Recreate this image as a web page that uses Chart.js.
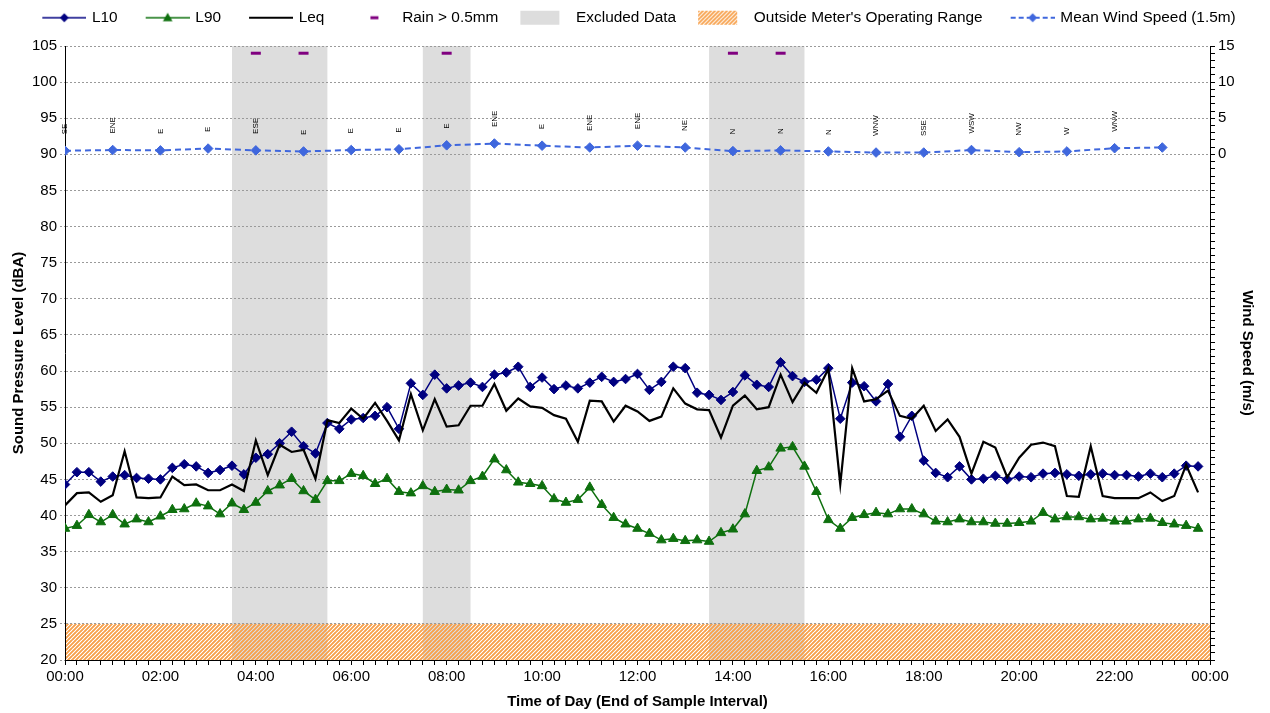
<!DOCTYPE html>
<html><head><meta charset="utf-8">
<script src="https://cdn.jsdelivr.net/npm/chart.js@4.4.1/dist/chart.umd.min.js"></script>
<style>html,body{margin:0;padding:0;background:#fff}#wrap{width:1270px;height:713px}</style>
</head><body><div id="wrap"><canvas id="c" width="1270" height="713"></canvas></div>
<script>
// ---------- DATA ----------
const timeLabels = [
"00:00","00:15","00:30","00:45","01:00","01:15","01:30","01:45",
"02:00","02:15","02:30","02:45","03:00","03:15","03:30","03:45",
"04:00","04:15","04:30","04:45","05:00","05:15","05:30","05:45",
"06:00","06:15","06:30","06:45","07:00","07:15","07:30","07:45",
"08:00","08:15","08:30","08:45","09:00","09:15","09:30","09:45",
"10:00","10:15","10:30","10:45","11:00","11:15","11:30","11:45",
"12:00","12:15","12:30","12:45","13:00","13:15","13:30","13:45",
"14:00","14:15","14:30","14:45","15:00","15:15","15:30","15:45",
"16:00","16:15","16:30","16:45","17:00","17:15","17:30","17:45",
"18:00","18:15","18:30","18:45","19:00","19:15","19:30","19:45",
"20:00","20:15","20:30","20:45","21:00","21:15","21:30","21:45",
"22:00","22:15","22:30","22:45","23:00","23:15","23:30","23:45"];

const l10Values = [
44.3,46.0,46.0,44.7,45.4,45.6,45.2,45.1,45.0,46.6,47.1,46.8,45.9,46.3,46.9,45.7,
48.0,48.5,50.0,51.6,49.6,48.6,52.8,52.0,53.3,53.5,53.8,55.0,52.0,58.3,56.7,59.5,
57.6,58.0,58.4,57.8,59.5,59.8,60.6,57.8,59.1,57.5,58.0,57.6,58.4,59.2,58.5,58.9,
59.6,57.4,58.5,60.6,60.4,57.0,56.7,56.0,57.1,59.4,58.1,57.8,61.2,59.3,58.5,58.8,
60.4,53.4,58.4,57.9,55.8,58.2,50.9,53.8,47.6,45.9,45.3,46.8,45.0,45.1,45.5,45.0,
45.4,45.3,45.8,45.9,45.7,45.5,45.7,45.8,45.6,45.6,45.4,45.8,45.3,45.8,46.9,46.8];

const l90Values = [
38.2,38.6,40.1,39.1,40.1,38.8,39.5,39.1,39.9,40.8,40.9,41.7,41.3,40.2,41.7,40.8,
41.8,43.4,44.2,45.1,43.4,42.2,44.8,44.8,45.8,45.5,44.4,45.1,43.3,43.1,44.1,43.3,
43.6,43.5,44.8,45.4,47.8,46.3,44.6,44.4,44.1,42.3,41.8,42.2,43.9,41.5,39.7,38.8,
38.2,37.5,36.6,36.8,36.5,36.6,36.4,37.6,38.1,40.2,46.2,46.7,49.3,49.5,46.8,43.3,
39.4,38.2,39.7,40.1,40.4,40.2,40.9,40.9,40.2,39.2,39.1,39.5,39.1,39.1,38.9,38.9,
39.0,39.2,40.4,39.5,39.8,39.8,39.5,39.6,39.2,39.2,39.5,39.6,39.0,38.8,38.6,38.2];

const leqValues = [
41.4,43.1,43.2,41.9,42.8,48.9,42.5,42.4,42.5,45.4,44.2,44.3,43.5,43.5,44.3,43.4,
50.4,45.6,49.8,48.8,49.1,45.1,53.2,52.8,54.8,53.4,55.6,53.1,50.4,56.8,51.8,56.1,
52.3,52.5,55.2,55.2,58.2,54.5,56.2,55.1,54.9,53.9,53.4,50.2,55.9,55.8,53.0,55.2,
54.4,53.1,53.7,57.6,55.5,54.7,54.6,50.8,55.2,56.6,54.7,55.0,59.5,55.7,58.4,57.0,
60.3,44.3,60.4,55.8,56.1,57.3,53.8,53.4,55.2,51.7,53.3,50.9,45.8,50.2,49.4,45.3,
48.0,49.8,50.1,49.6,42.7,42.6,49.6,42.7,42.4,42.4,42.4,43.2,42.0,42.7,47.0,43.2];

const windTimes = ["00:00","01:00","02:00","03:00","04:00","05:00","06:00","07:00",
"08:00","09:00","10:00","11:00","12:00","13:00","14:00","15:00",
"16:00","17:00","18:00","19:00","20:00","21:00","22:00","23:00"];
const windSpeeds = [0.5,0.6,0.55,0.8,0.55,0.4,0.6,0.7,1.25,1.5,1.2,0.95,
1.2,0.95,0.45,0.55,0.4,0.25,0.25,0.6,0.3,0.4,0.85,0.95];
const windDirections = ["SE","ENE","E","E","ESE","E","E","E","E","ENE","E","ENE",
"ENE","NE","N","N","N","WNW","SSE","WSW","NW","W","WNW",""];

const rainTimes = ["04:00","05:00","08:00","14:00","15:00"];
const rainMarkerLevel = 104;

const excludedRanges = [["03:30","05:30"],["07:30","08:30"],["13:30","15:30"]];
const operatingRange = [20, 25];   // below meter's operating range

const xTickLabels = ["00:00","02:00","04:00","06:00","08:00","10:00","12:00",
"14:00","16:00","18:00","20:00","22:00","00:00"];
const rightTickLabels = [0,5,10,15];

// ---------- HELPERS ----------
const FONT = "'Liberation Sans', Arial, sans-serif";
const toHours = t => { const [h,m] = t.split(':').map(Number); return h + m/60; };
const C_L10 = '#000080', C_L90 = '#0E700E', C_LEQ = '#000000',
      C_WIND = '#3F67DD', C_RAIN = '#800080', C_GREY = '#DDDDDD', C_HATCH = '#F7A04B';

function makeHatchTile(){
  const c = document.createElement('canvas'); c.width = 8; c.height = 8;
  const g = c.getContext('2d');
  g.strokeStyle = C_HATCH; g.lineWidth = 1.5;
  for (let k = 0; k <= 16; k += 4){ g.beginPath(); g.moveTo(k-8, 8); g.lineTo(k, 0); g.stroke();
    g.beginPath(); g.moveTo(k-9, 9); g.lineTo(k+1, -1); g.stroke(); }
  return c;
}
const hatchTile = makeHatchTile();

function icon(draw){
  const c = document.createElement('canvas'); c.width = 64; c.height = 16;
  const g = c.getContext('2d'); draw(g); return c;
}
function lineIcon(color, width, dash, marker){
  return icon(g => {
    g.strokeStyle = color; g.lineWidth = width; g.setLineDash(dash);
    g.beginPath(); g.moveTo(20, 8); g.lineTo(64, 8); g.stroke(); g.setLineDash([]);
    g.fillStyle = color; const cx = 42, cy = 8;
    if (marker === 'diamond'){ g.beginPath(); g.moveTo(cx, cy-4.5); g.lineTo(cx+4.5, cy); g.lineTo(cx, cy+4.5); g.lineTo(cx-4.5, cy); g.closePath(); g.fill(); }
    if (marker === 'triangle'){ g.beginPath(); g.moveTo(cx, cy-5); g.lineTo(cx+4.8, cy+3.5); g.lineTo(cx-4.8, cy+3.5); g.closePath(); g.fill(); }
  });
}
const legendIcons = [
  lineIcon(C_L10, 1.5, [], 'diamond'),
  lineIcon(C_L90, 1.5, [], 'triangle'),
  lineIcon(C_LEQ, 2.2, [], null),
  icon(g => { g.fillStyle = C_RAIN; g.fillRect(38, 6.5, 8, 3); }),
  icon(g => { g.fillStyle = C_GREY; g.fillRect(14, 1, 39, 14); }),
  icon(g => { g.fillStyle = g.createPattern(hatchTile, 'repeat'); g.fillRect(14, 1, 39, 14); }),
  lineIcon(C_WIND, 2, [5, 3], 'diamond')
];
const legendTexts = ["L10","L90","Leq","Rain > 0.5mm","Excluded Data","Outside Meter's Operating Range","Mean Wind Speed (1.5m)"];

// ---------- PLUGINS ----------
const legendHeightPlugin = {
  id: 'legendHeight',
  beforeLayout(chart){
    const lg = chart.legend;
    if (lg && !lg._patched){
      const orig = lg.fit.bind(lg);
      lg.fit = function(){ orig(); this.height = 46; };
      lg._patched = true;
    }
  },
  afterLayout(chart){
    const lg = chart.legend;
    if (lg){ lg.left -= 5; lg.right -= 5; }
  }
};
const bandsPlugin = {
  id: 'bands',
  beforeDraw(chart){
    const {ctx, chartArea: a, scales: {x, y}} = chart;
    ctx.save();
    ctx.fillStyle = C_GREY;
    excludedRanges.forEach(([s, e]) => {
      const x1 = x.getPixelForValue(toHours(s)), x2 = x.getPixelForValue(toHours(e));
      ctx.fillRect(x1, a.top, x2 - x1, a.bottom - a.top);
    });
    const yTop = y.getPixelForValue(operatingRange[1]), yBot = y.getPixelForValue(operatingRange[0]);
    ctx.fillStyle = ctx.createPattern(hatchTile, 'repeat');
    ctx.fillRect(a.left, yTop, a.right - a.left, yBot - yTop);
    ctx.restore();
  }
};
const windLabelPlugin = {
  id: 'windLabels',
  afterDatasetsDraw(chart){
    const idx = chart.data.datasets.findIndex(d => d.label === 'Mean Wind Speed (1.5m)');
    const meta = chart.getDatasetMeta(idx);
    const ctx = chart.ctx;
    ctx.save();
    ctx.font = "8px " + FONT; ctx.fillStyle = '#000';
    ctx.textAlign = 'left'; ctx.textBaseline = 'middle';
    meta.data.forEach((pt, i) => {
      const txt = windDirections[i]; if (!txt) return;
      ctx.save(); ctx.translate(pt.x, pt.y - 16.5); ctx.rotate(-Math.PI/2);
      ctx.fillText(txt, 0, 0); ctx.restore();
    });
    ctx.restore();
  }
};

// ---------- CHART ----------
Chart.defaults.font.family = FONT;
Chart.defaults.font.size = 15;
Chart.defaults.color = '#000';

const pts = vals => timeLabels.map((t, i) => ({x: toHours(t), y: vals[i]}));

new Chart(document.getElementById('c'), {
  type: 'line',
  data: {
    datasets: [
      { label: 'Rain > 0.5mm', data: rainTimes.map(t => ({x: toHours(t), y: rainMarkerLevel})),
        showLine: false, pointStyle: 'line', pointRadius: 5, pointBorderWidth: 3,
        borderColor: C_RAIN, backgroundColor: C_RAIN, order: 0 },
      { label: 'Leq', data: pts(leqValues), borderColor: C_LEQ, borderWidth: 2.2,
        pointRadius: 0, tension: 0, order: 1 },
      { label: 'L10', data: pts(l10Values), borderColor: C_L10, backgroundColor: C_L10,
        borderWidth: 1.5, pointStyle: 'rectRot', pointRadius: 4.8, pointBorderWidth: 1, tension: 0, order: 2 },
      { label: 'L90', data: pts(l90Values), borderColor: C_L90, backgroundColor: C_L90,
        borderWidth: 1.5, pointStyle: 'triangle', pointRadius: 5.5, pointBorderWidth: 1, tension: 0, order: 3 },
      { label: 'Mean Wind Speed (1.5m)', data: windTimes.map((t, i) => ({x: toHours(t), y: windSpeeds[i]})),
        yAxisID: 'y2', borderColor: C_WIND, backgroundColor: C_WIND, borderWidth: 2, borderDash: [6, 4],
        pointStyle: 'rectRot', pointRadius: 4.8, pointBorderWidth: 1, tension: 0, order: 4 }
    ]
  },
  options: {
    responsive: false, animation: false, devicePixelRatio: 1,
    layout: { padding: { top: 0, left: 0, right: 0, bottom: 0 } },
    plugins: {
      tooltip: { enabled: false },
      legend: {
        position: 'top', align: 'center',
        labels: {
          usePointStyle: true, pointStyleWidth: 60, padding: 10, color: '#000',
          font: { size: 15.4, family: FONT },
          generateLabels: () => legendTexts.map((t, i) => ({
            text: t, pointStyle: legendIcons[i], fillStyle: 'transparent', strokeStyle: 'transparent',
            lineWidth: 0, hidden: false, fontColor: '#000', datasetIndex: i
          }))
        },
        onClick: () => {}
      }
    },
    scales: {
      x: {
        type: 'linear', min: 0, max: 24,
        ticks: { stepSize: 0.25, autoSkip: false, maxRotation: 0, minRotation: 0, padding: 3,
          font: { size: 15 },
          callback: v => (Math.abs(v % 2) < 1e-9 ? xTickLabels[Math.round(v / 2)] : '') },
        grid: { drawOnChartArea: false, drawTicks: true, tickLength: 5, tickColor: '#000', tickWidth: 1 },
        border: { display: true, color: '#000', width: 1 },
        title: { display: true, text: 'Time of Day (End of Sample Interval)',
          font: { size: 15, weight: 'bold' }, padding: { top: 4, bottom: 2 } },
        afterFit: s => { s.height = 53; }
      },
      y: {
        position: 'left', min: 20, max: 105,
        ticks: { stepSize: 5, padding: 3, font: { size: 15 } },
        grid: { color: '#9a9a9a', lineWidth: 1, drawTicks: true, tickLength: 5, tickBorderDash: [2, 2] },
        border: { display: true, color: '#000', width: 1, dash: [2, 2] },
        title: { display: true, text: 'Sound Pressure Level (dBA)',
          font: { size: 15, weight: 'bold' }, padding: { top: 10, bottom: 0 } },
        afterFit: s => { s.width = 65; }
      },
      y2: {
        position: 'right', min: -70, max: 15,
        ticks: { stepSize: 1, autoSkip: false, padding: 3, font: { size: 15 },
          callback: v => (rightTickLabels.includes(v) ? String(v) : '') },
        grid: { drawOnChartArea: false, drawTicks: true, tickLength: 5, tickColor: '#000' },
        border: { display: true, color: '#000', width: 1 },
        title: { display: true, text: 'Wind Speed (m/s)',
          font: { size: 15, weight: 'bold' }, padding: { top: 14, bottom: 0 } },
        afterFit: s => { s.width = 60; }
      }
    }
  },
  plugins: [legendHeightPlugin, bandsPlugin, windLabelPlugin]
});
</script>
</body></html>
